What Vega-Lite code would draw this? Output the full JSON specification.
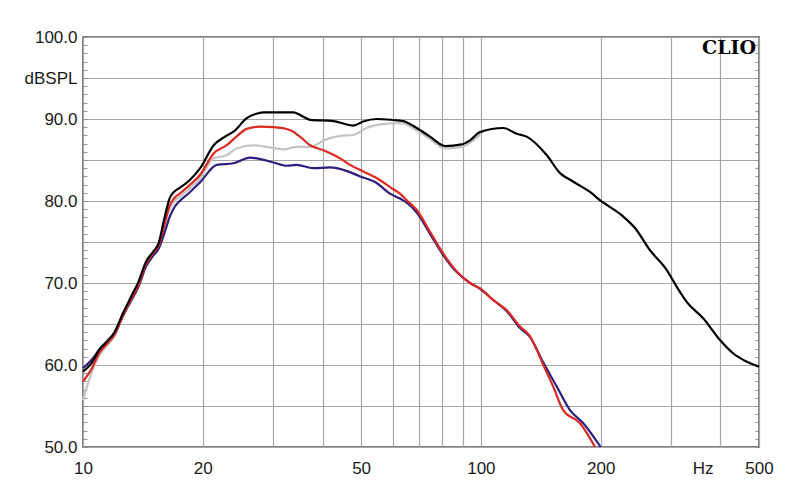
{
  "$schema": "https://vega.github.io/schema/vega-lite/v6.json",
  "width": 676,
  "height": 410,
  "autosize": {"type": "none"},
  "padding": {"left": 83, "top": 37, "right": 41, "bottom": 57},
  "background": "white",
  "config": {
    "view": {"stroke": "#808080", "strokeWidth": 2},
    "axis": {"labelFont": "Liberation Sans", "labelFontSize": 17, "labelColor": "#1a1a1a", "titleFont": "Liberation Sans"}
  },
  "datasets": {
    "curves": [
      {"s":"black","f":10,"v":59.2},{"s":"black","f":10.5,"v":60.2},{"s":"black","f":11,"v":61.9},{"s":"black","f":11.5,"v":62.9},{"s":"black","f":12,"v":64.0},{"s":"black","f":12.6,"v":66.3},{"s":"black","f":13.2,"v":68.3},{"s":"black","f":13.8,"v":70.2},{"s":"black","f":14.4,"v":72.6},{"s":"black","f":15,"v":73.8},{"s":"black","f":15.5,"v":74.9},{"s":"black","f":16,"v":77.8},{"s":"black","f":16.5,"v":80.3},{"s":"black","f":17,"v":81.2},{"s":"black","f":17.5,"v":81.6},{"s":"black","f":18.5,"v":82.5},{"s":"black","f":19.7,"v":84.0},{"s":"black","f":21.3,"v":86.8},{"s":"black","f":22.75,"v":87.85},{"s":"black","f":23.9,"v":88.45},{"s":"black","f":25.8,"v":90.1},{"s":"black","f":27.1,"v":90.6},{"s":"black","f":28.4,"v":90.8},{"s":"black","f":33.8,"v":90.8},{"s":"black","f":35.1,"v":90.5},{"s":"black","f":37.2,"v":89.9},{"s":"black","f":42.6,"v":89.75},{"s":"black","f":47.8,"v":89.2},{"s":"black","f":50.6,"v":89.7},{"s":"black","f":54.7,"v":90.0},{"s":"black","f":62.6,"v":89.8},{"s":"black","f":63.8,"v":89.75},{"s":"black","f":69,"v":88.9},{"s":"black","f":74.5,"v":87.85},{"s":"black","f":81.3,"v":86.7},{"s":"black","f":89.5,"v":86.9},{"s":"black","f":93.9,"v":87.4},{"s":"black","f":99.5,"v":88.4},{"s":"black","f":113.9,"v":88.9},{"s":"black","f":123,"v":88.2},{"s":"black","f":130.4,"v":87.85},{"s":"black","f":146.3,"v":85.6},{"s":"black","f":158.1,"v":83.4},{"s":"black","f":170.7,"v":82.35},{"s":"black","f":188,"v":81.1},{"s":"black","f":199.2,"v":80.1},{"s":"black","f":228,"v":78.1},{"s":"black","f":244,"v":76.7},{"s":"black","f":266,"v":74.0},{"s":"black","f":293,"v":71.6},{"s":"black","f":310.5,"v":69.55},{"s":"black","f":329,"v":67.7},{"s":"black","f":362,"v":65.7},{"s":"black","f":399,"v":63.05},{"s":"black","f":431,"v":61.4},{"s":"black","f":466,"v":60.4},{"s":"black","f":500,"v":59.8},

      {"s":"red","f":10,"v":58.0},{"s":"red","f":10.5,"v":59.5},{"s":"red","f":11,"v":61.5},{"s":"red","f":11.5,"v":62.6},{"s":"red","f":12,"v":63.7},{"s":"red","f":12.6,"v":66.0},{"s":"red","f":13.2,"v":68.0},{"s":"red","f":13.8,"v":69.8},{"s":"red","f":14.4,"v":72.3},{"s":"red","f":15,"v":73.6},{"s":"red","f":15.5,"v":74.6},{"s":"red","f":16,"v":77.0},{"s":"red","f":16.5,"v":79.4},{"s":"red","f":17,"v":80.4},{"s":"red","f":17.5,"v":80.9},{"s":"red","f":18.5,"v":81.9},{"s":"red","f":19.7,"v":83.2},{"s":"red","f":21.3,"v":85.8},{"s":"red","f":22.97,"v":86.8},{"s":"red","f":24.3,"v":87.85},{"s":"red","f":25.8,"v":88.8},{"s":"red","f":27.9,"v":89.06},{"s":"red","f":30.1,"v":89.0},{"s":"red","f":33.1,"v":88.66},{"s":"red","f":35.1,"v":87.85},{"s":"red","f":37.2,"v":86.8},{"s":"red","f":40.2,"v":86.2},{"s":"red","f":44.3,"v":85.2},{"s":"red","f":46.9,"v":84.4},{"s":"red","f":50.6,"v":83.6},{"s":"red","f":54.7,"v":82.8},{"s":"red","f":59.1,"v":81.7},{"s":"red","f":62.6,"v":80.9},{"s":"red","f":65.1,"v":80.1},{"s":"red","f":69,"v":78.9},{"s":"red","f":74.5,"v":76.25},{"s":"red","f":80.4,"v":73.6},{"s":"red","f":87,"v":71.4},{"s":"red","f":93.9,"v":70.0},{"s":"red","f":99.5,"v":69.35},{"s":"red","f":107.5,"v":67.9},{"s":"red","f":116,"v":66.7},{"s":"red","f":125.4,"v":64.7},{"s":"red","f":132.9,"v":63.5},{"s":"red","f":143.5,"v":60.0},{"s":"red","f":152,"v":57.35},{"s":"red","f":161,"v":54.5},{"s":"red","f":177.5,"v":52.9},{"s":"red","f":193.6,"v":50.0},

      {"s":"navy","f":10,"v":59.6},{"s":"navy","f":10.5,"v":60.6},{"s":"navy","f":11,"v":61.9},{"s":"navy","f":11.5,"v":62.8},{"s":"navy","f":12,"v":63.8},{"s":"navy","f":12.6,"v":66.0},{"s":"navy","f":13.2,"v":67.8},{"s":"navy","f":13.8,"v":69.6},{"s":"navy","f":14.4,"v":72.0},{"s":"navy","f":15,"v":73.3},{"s":"navy","f":15.5,"v":74.2},{"s":"navy","f":16,"v":76.0},{"s":"navy","f":16.5,"v":78.0},{"s":"navy","f":17,"v":79.3},{"s":"navy","f":17.5,"v":80.0},{"s":"navy","f":18.5,"v":81.0},{"s":"navy","f":19.7,"v":82.3},{"s":"navy","f":21.7,"v":84.4},{"s":"navy","f":23.9,"v":84.6},{"s":"navy","f":26.3,"v":85.3},{"s":"navy","f":27.9,"v":85.1},{"s":"navy","f":30.1,"v":84.7},{"s":"navy","f":32.5,"v":84.3},{"s":"navy","f":34.4,"v":84.4},{"s":"navy","f":37.9,"v":84.0},{"s":"navy","f":41.8,"v":84.1},{"s":"navy","f":45.1,"v":83.8},{"s":"navy","f":49.7,"v":83.0},{"s":"navy","f":54.7,"v":82.2},{"s":"navy","f":59.1,"v":80.9},{"s":"navy","f":62.6,"v":80.3},{"s":"navy","f":65.1,"v":79.8},{"s":"navy","f":69,"v":78.6},{"s":"navy","f":74.5,"v":76.0},{"s":"navy","f":80.4,"v":73.4},{"s":"navy","f":87,"v":71.3},{"s":"navy","f":93.9,"v":70.0},{"s":"navy","f":99.5,"v":69.3},{"s":"navy","f":107.5,"v":67.9},{"s":"navy","f":116,"v":66.6},{"s":"navy","f":125.4,"v":64.5},{"s":"navy","f":132.9,"v":63.4},{"s":"navy","f":143.5,"v":60.3},{"s":"navy","f":155,"v":57.4},{"s":"navy","f":167.5,"v":54.5},{"s":"navy","f":180.9,"v":52.9},{"s":"navy","f":200,"v":50.0},

      {"s":"gray","f":10,"v":55.7},{"s":"gray","f":10.5,"v":59.0},{"s":"gray","f":11,"v":61.2},{"s":"gray","f":11.5,"v":62.4},{"s":"gray","f":12,"v":63.5},{"s":"gray","f":12.6,"v":66.0},{"s":"gray","f":13.2,"v":68.0},{"s":"gray","f":13.8,"v":69.8},{"s":"gray","f":14.4,"v":72.3},{"s":"gray","f":15,"v":73.5},{"s":"gray","f":15.5,"v":74.5},{"s":"gray","f":16,"v":77.0},{"s":"gray","f":16.5,"v":79.0},{"s":"gray","f":17,"v":80.0},{"s":"gray","f":17.5,"v":80.5},{"s":"gray","f":18.5,"v":81.5},{"s":"gray","f":19.7,"v":82.8},{"s":"gray","f":21.3,"v":85.2},{"s":"gray","f":23,"v":85.6},{"s":"gray","f":24.3,"v":86.4},{"s":"gray","f":26.8,"v":86.8},{"s":"gray","f":28.9,"v":86.6},{"s":"gray","f":31.9,"v":86.3},{"s":"gray","f":34.4,"v":86.6},{"s":"gray","f":37.2,"v":86.6},{"s":"gray","f":41.0,"v":87.55},{"s":"gray","f":44.3,"v":87.95},{"s":"gray","f":47.8,"v":88.05},{"s":"gray","f":51.6,"v":88.9},{"s":"gray","f":55.8,"v":89.35},{"s":"gray","f":62.6,"v":89.5},{"s":"gray","f":63.8,"v":89.45},{"s":"gray","f":69,"v":88.6},{"s":"gray","f":74.5,"v":87.55},{"s":"gray","f":81.3,"v":86.4},{"s":"gray","f":89.5,"v":86.6},{"s":"gray","f":93.9,"v":87.1},{"s":"gray","f":99.5,"v":88.1}
    ],
    "tag": [{"f": 500, "v": 100, "t": "CLIO"}]
  },
  "layer": [
    {
      "data": {"name": "curves"},
      "encoding": {
        "x": {
          "field": "f", "type": "quantitative",
          "scale": {"type": "log", "domain": [10, 500], "nice": false},
          "axis": {
            "title": null,
            "values": [10, 20, 30, 40, 50, 60, 70, 80, 90, 100, 200, 300, 400, 500],
            "labelExpr": "datum.value == 300 ? 'Hz' : (datum.value == 10 || datum.value == 20 || datum.value == 50 || datum.value == 100 || datum.value == 200 || datum.value == 500) ? format(datum.value, 'd') : ''",
            "labelOffset": {"condition": {"test": "datum.value == 300", "value": 32}, "value": 0},
            "labelOverlap": false,
            "labelFlush": false,
            "labelPadding": 13,
            "ticks": false,
            "domain": false,
            "grid": true,
            "gridColor": "#a6a6a6",
            "gridWidth": 1.2,
            "gridOpacity": 1
          }
        },
        "y": {
          "field": "v", "type": "quantitative",
          "scale": {"domain": [50, 100], "nice": false, "zero": false},
          "axis": {
            "title": null,
            "values": [50,51,52,53,54,55,56,57,58,59,60,61,62,63,64,65,66,67,68,69,70,71,72,73,74,75,76,77,78,79,80,81,82,83,84,85,86,87,88,89,90,91,92,93,94,95,96,97,98,99,100],
            "labelExpr": "datum.value == 95 ? 'dBSPL' : (datum.value % 10 == 0 ? format(datum.value, '.1f') : '')",
            "labelOverlap": false,
            "labelPadding": 10,
            "tickSize": -4,
            "tickColor": "#909090",
            "tickWidth": 1,
            "domain": false,
            "grid": true,
            "gridColor": "#a6a6a6",
            "gridWidth": 1.2,
            "gridOpacity": {"condition": {"test": "datum.value % 5 == 0", "value": 1}, "value": 0}
          }
        }
      },
      "layer": [
        {"transform": [{"filter": "datum.s == 'gray'"}], "mark": {"type": "line", "color": "#c4c4c4", "strokeWidth": 2.2, "interpolate": "monotone"}},
        {"transform": [{"filter": "datum.s == 'navy'"}], "mark": {"type": "line", "color": "#2c1f80", "strokeWidth": 2.2, "interpolate": "monotone"}},
        {"transform": [{"filter": "datum.s == 'red'"}], "mark": {"type": "line", "color": "#dc2a22", "strokeWidth": 2.2, "interpolate": "monotone"}},
        {
          "data": {"name": "tag"},
          "mark": {"type": "text", "align": "right", "baseline": "top", "dx": -3, "dy": 2, "font": "DejaVu Serif", "fontWeight": "bold", "fontSize": 19, "color": "#000000"},
          "encoding": {"text": {"field": "t"}}
        }
      ]
    },
    {
      "data": {"name": "curves"},
      "transform": [{"filter": "datum.s == 'black'"}],
      "mark": {"type": "line", "color": "#000000", "strokeWidth": 2.2, "interpolate": "monotone"},
      "encoding": {
        "x": {"field": "f", "type": "quantitative", "scale": {"type": "log", "domain": [10, 500], "nice": false}},
        "y": {
          "field": "v", "type": "quantitative",
          "scale": {"domain": [50, 100], "nice": false, "zero": false},
          "axis": {
            "orient": "right",
            "title": null,
            "values": [50,51,52,53,54,55,56,57,58,59,60,61,62,63,64,65,66,67,68,69,70,71,72,73,74,75,76,77,78,79,80,81,82,83,84,85,86,87,88,89,90,91,92,93,94,95,96,97,98,99,100],
            "labels": false,
            "grid": false,
            "domain": false,
            "tickSize": -4,
            "tickColor": "#909090",
            "tickWidth": 1
          }
        }
      }
    }
  ],
  "resolve": {"axis": {"y": "independent"}}
}
